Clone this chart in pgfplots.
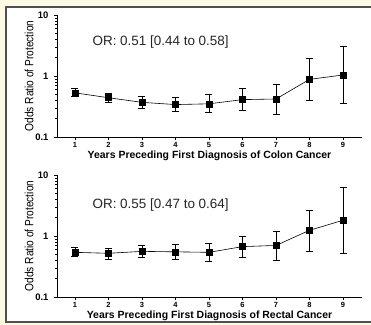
\documentclass[border=0pt]{standalone}
\usepackage{pgfplots}
\pgfplotsset{compat=1.18}
\usepackage{pgfplotstable}
\usepackage{graphicx}
\usepackage{fontspec}
\setmainfont{Liberation Sans}
\definecolor{cream}{RGB}{253,250,228}
\definecolor{framegray}{RGB}{80,80,80}
\newcommand\ytl[1]{\fontsize{9.5}{10}\selectfont\bfseries #1}
\newcommand\xtl[1]{\fontsize{7.5}{8}\selectfont\bfseries #1}

\pgfplotstableread{
x y ep em
1 0.53 0.09 0.07
2 0.44 0.08 0.07
3 0.37 0.09 0.07
4 0.34 0.10 0.08
5 0.35 0.15 0.10
6 0.41 0.23 0.14
7 0.42 0.32 0.18
8 0.88 1.04 0.48
9 1.04 1.98 0.68
}\colontab

\pgfplotstableread{
x y ep em
1 0.54 0.11 0.08
2 0.52 0.12 0.10
3 0.56 0.15 0.11
4 0.55 0.18 0.13
5 0.54 0.21 0.15
6 0.67 0.33 0.23
7 0.70 0.51 0.30
8 1.24 1.43 0.67
9 1.81 4.48 1.28
}\rectaltab

\pgfplotsset{
  every axis/.append style={
    scale only axis,
    width=305bp, height=122bp,
    anchor=south west,
    xmin=0.463, xmax=9.567,
    ymin=0.1, ymax=10,
    axis x line*=bottom,
    axis y line*=left,
    axis line style={black, line width=0.6pt},
    xtick={1,2,3,4,5,6,7,8,9},
    xticklabels={\xtl{1},\xtl{2},\xtl{3},\xtl{4},\xtl{5},\xtl{6},\xtl{7},\xtl{8},\xtl{9}},
    ytick={0.1,1,10},
    yticklabels={\ytl{0.1},\ytl{1},\ytl{10}},
    tick align=outside,
    major tick length=3bp,
    minor tick length=2bp,
    tick style={black, line width=0.5pt},
    xticklabel style={yshift=1bp},
    yticklabel style={xshift=-2bp},
    xlabel style={font=\bfseries\fontsize{10.5}{11}\selectfont, yshift=4bp},
    ylabel style={font=\fontsize{12}{13}\selectfont, yshift=-5bp},
    ylabel={\scalebox{0.85}[1]{Odds Ratio of Protection}},
    clip=false,
  },
}

\begin{document}
\begin{tikzpicture}
\fill[cream] (0,0) rectangle (371bp,325bp);
\fill[white] (6bp,3bp) rectangle (380bp,318bp);
\draw[framegray, line width=1.2pt] (6bp,3bp) rectangle (380bp,318bp);

\begin{axis}[
    ymode=log,
    at={(57bp,188bp)},
    xlabel={Years Preceding First Diagnosis of Colon Cancer},
  ]
\addplot[black, line width=0.6pt, mark=square*, mark size=3bp,
    mark options={solid, black},
    error bars/y dir=both, error bars/y explicit,
    error bars/error bar style={black, line width=0.6pt},
    error bars/error mark options={rotate=90, mark size=3.5bp, black, line width=0.6pt}]
  table[x=x, y=y, y error plus=ep, y error minus=em] {\colontab};
\node[anchor=west, font=\fontsize{13.5}{15}\selectfont, text=black!85]
  at (axis cs:1.42,3.6) {OR: 0.51 [0.44 to 0.58]};
\end{axis}

\begin{axis}[
    ymode=log,
    at={(57bp,28bp)},
    xlabel={Years Preceding First Diagnosis of Rectal Cancer},
  ]
\addplot[black, line width=0.6pt, mark=square*, mark size=3bp,
    mark options={solid, black},
    error bars/y dir=both, error bars/y explicit,
    error bars/error bar style={black, line width=0.6pt},
    error bars/error mark options={rotate=90, mark size=3.5bp, black, line width=0.6pt}]
  table[x=x, y=y, y error plus=ep, y error minus=em] {\rectaltab};
\node[anchor=west, font=\fontsize{13.5}{15}\selectfont, text=black!85]
  at (axis cs:1.42,3.22) {OR: 0.55 [0.47 to 0.64]};
\end{axis}

\pgfresetboundingbox
\path[use as bounding box] (0,0) rectangle (371bp,325bp);
\end{tikzpicture}
\end{document}
